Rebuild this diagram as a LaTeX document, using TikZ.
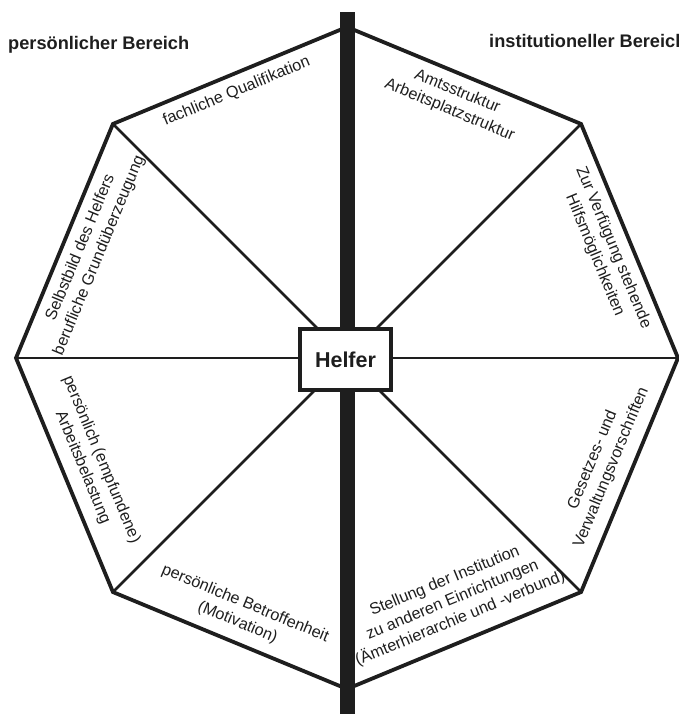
\documentclass[tikz,border=0pt]{standalone}
\usepackage{fontspec}
\setmainfont{Liberation Sans}
\definecolor{ink}{HTML}{1E1E1E}
\begin{document}
\begin{tikzpicture}[x=1pt,y=1pt,
  outline/.style={draw=ink,line width=3.8pt,line join=miter},
  spoke/.style={draw=ink,line width=2.8pt},
  lab/.style={inner sep=0pt,align=center,text=ink,font=\fontsize{16.2}{20.2}\selectfont},
  heading/.style={inner sep=0pt,anchor=base west,text=ink,font=\fontsize{18.2}{20}\selectfont\bfseries},
  helferbox/.style={draw=ink,fill=white,line width=4pt,minimum width=91pt,minimum height=61pt,inner sep=0pt,text=ink,font=\fontsize{21.5}{24}\selectfont\bfseries}
]
\useasboundingbox (-347,-356) rectangle (332,358);
\def\R{331}
\coordinate (c) at (0,0);
\foreach \k in {0,...,7}{\coordinate (v\k) at (\k*45:\R);}
\foreach \k in {0,...,7}{\draw[spoke] (c) -- (v\k);}
\draw[outline] (v0) -- (v1) -- (v2) -- (v3) -- (v4) -- (v5) -- (v6) -- (v7) -- cycle;
\fill[ink] (-7,-356) rectangle (8,346);
\node[helferbox] (helfer) at (-1.5,-1.5) {Helfer};
\node[heading] (hl) at (-339,308) {persönlicher Bereich};
\node[heading] (hr) at (142,310) {institutioneller Bereich};
\node[lab,rotate=22.5,anchor=north] (l1) at (112.5:296) {fachliche Qualifikation};
\node[lab,rotate=-22.5,anchor=north] (l2) at (67.5:296) {Amtsstruktur\\Arbeitsplatzstruktur};
\node[lab,rotate=-67.5,anchor=north] (l3) at (22.5:296) {Zur Verfügung stehende\\Hilfsmöglichkeiten};
\node[lab,rotate=67.5,anchor=south] (l4) at (-22.5:294) {Gesetzes- und\\Verwaltungsvorschriften};
\node[lab,rotate=22.5,anchor=south] (l5) at (116.3,-267.9) {Stellung der Institution\\zu anderen Einrichtungen\\(Ämterhierarchie und -verbund)};
\node[lab,rotate=-22.5,anchor=south] (l6) at (-112.5:294) {persönliche Betroffenheit\\(Motivation)};
\node[lab,rotate=-67.5,anchor=south] (l7) at (-157.5:294) {persönlich (empfundene)\\Arbeitsbelastung};
\node[lab,rotate=67.5,anchor=north] (l8) at (157.5:296) {Selbstbild des Helfers\\berufliche Grundüberzeugung};
\end{tikzpicture}
\end{document}
